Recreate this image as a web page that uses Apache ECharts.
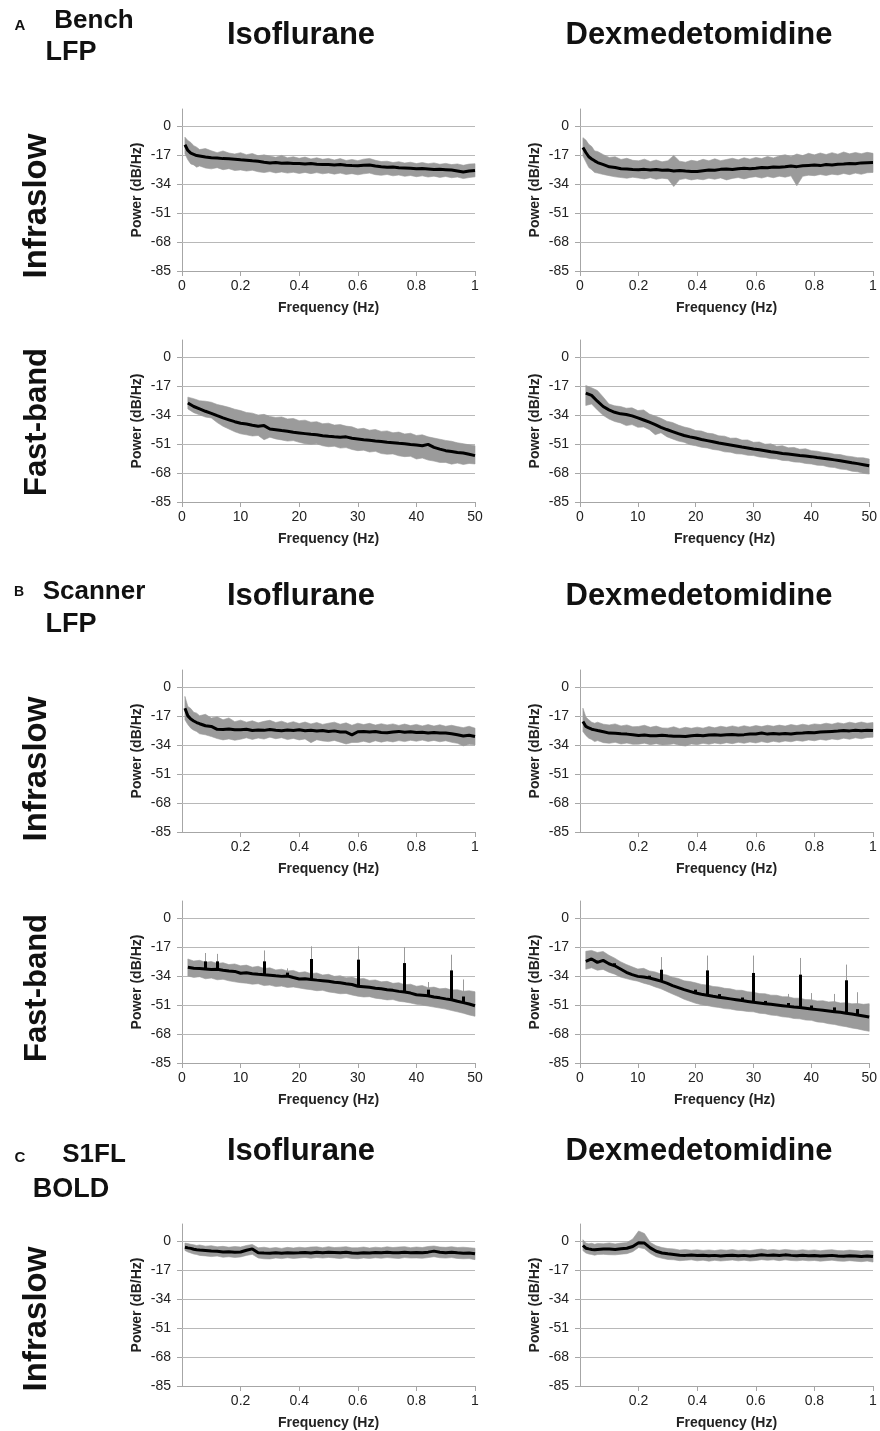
<!DOCTYPE html>
<html>
<head>
<meta charset="utf-8">
<title>Power spectra</title>
<script src="https://cdn.jsdelivr.net/npm/echarts@6.0.0/dist/echarts.min.js"></script>
<style>
  html, body { margin: 0; padding: 0; background: #fff; }
  #chart { width: 880px; height: 1431px; }
</style>
</head>
<body>
<div id="chart"></div>
<script>
// ---- axes ----
const yTicks = [-85, -68, -51, -34, -17, 0];
const ticksInfraA = [0, 0.2, 0.4, 0.6, 0.8, 1];
const ticksInfra = [0.2, 0.4, 0.6, 0.8, 1];
const ticksFast = [0, 10, 20, 30, 40, 50];

// frequency samples (Hz)
const freqInfra = [0.01, 0.02, 0.03, 0.04, 0.05, 0.06,
  0.08, 0.10, 0.12, 0.14, 0.16, 0.18, 0.20, 0.22, 0.24, 0.26,
  0.28, 0.30, 0.32, 0.34, 0.36, 0.38, 0.40, 0.42, 0.44, 0.46,
  0.48, 0.50, 0.52, 0.54, 0.56, 0.58, 0.60, 0.62, 0.64, 0.66,
  0.68, 0.70, 0.72, 0.74, 0.76, 0.78, 0.80, 0.82, 0.84, 0.86,
  0.88, 0.90, 0.92, 0.94, 0.96, 0.98, 1.00];
const freqFast = [1, 2, 3, 4, 5, 6, 7, 8, 9, 10,
  11, 12, 13, 14, 15, 16, 17, 18, 19, 20,
  21, 22, 23, 24, 25, 26, 27, 28, 29, 30,
  31, 32, 33, 34, 35, 36, 37, 38, 39, 40,
  41, 42, 43, 44, 45, 46, 47, 48, 49, 50];

// ---- A: bench LFP, infraslow ----
const benchIsoInfraMean = [-11.0, -14.3, -15.9, -16.6, -17.3, -17.6,
  -18.2, -18.6, -18.8, -19.1, -19.2, -19.5, -19.8, -20.0, -20.4, -20.7,
  -21.2, -21.6, -21.4, -21.8, -21.6, -22.0, -22.0, -22.3, -22.0, -22.4,
  -22.6, -22.5, -22.8, -22.6, -23.0, -23.2, -23.3, -23.0, -22.8, -23.4,
  -23.8, -24.1, -24.0, -24.4, -24.6, -24.8, -25.1, -24.9, -25.2, -25.5,
  -25.4, -25.6, -25.8, -26.3, -26.9, -26.4, -26.0];
const benchIsoInfraUpper = [-6.5, -8.5, -9.6, -11.5, -12.4, -13.8,
  -13.2, -14.5, -15.6, -14.6, -15.8, -16.4, -15.6, -16.8, -16.1, -17.4,
  -16.9, -17.6, -18.3, -17.2, -18.6, -18.0, -18.9, -18.2, -19.3, -18.6,
  -19.5, -19.0, -19.9, -19.1, -20.2, -19.6, -20.3, -19.4, -19.0, -20.1,
  -20.8, -20.6, -21.4, -20.9, -21.7, -21.2, -22.0, -21.4, -22.1, -21.6,
  -22.4, -21.9, -22.6, -22.2, -23.0, -22.3, -22.1];
const benchIsoInfraLower = [-16.3, -19.8, -22.2, -22.8, -24.1, -23.4,
  -24.6, -25.1, -24.4, -25.6, -25.0, -26.1, -25.7, -26.4, -25.9, -26.8,
  -27.3, -26.7, -27.5, -26.9, -27.6, -27.1, -27.8, -27.2, -27.9, -27.3,
  -28.0, -27.5, -28.2, -27.6, -28.4, -27.9, -28.6, -28.0, -27.6, -28.5,
  -28.9, -28.4, -29.2, -28.7, -29.5, -29.0, -29.7, -29.2, -29.9, -29.4,
  -30.1, -29.6, -30.3, -29.9, -30.8, -30.2, -29.8];

const benchDexInfraMean = [-12.6, -15.5, -18.0, -19.3, -20.4, -21.4,
  -22.6, -23.9, -24.3, -25.0, -25.2, -25.5, -25.6, -25.4, -25.8, -25.5,
  -25.9, -25.8, -26.3, -26.0, -26.4, -26.7, -26.6, -26.2, -25.8, -25.9,
  -25.4, -25.2, -25.5, -25.0, -24.8, -25.0, -24.7, -24.3, -24.5, -24.0,
  -24.2, -23.9, -23.4, -23.8, -23.3, -23.1, -22.9, -23.2, -22.6, -22.8,
  -22.4, -22.3, -21.9, -22.1, -21.6, -21.5, -21.4];
const benchDexInfraUpper = [-6.8, -8.2, -10.7, -12.0, -14.6, -14.9,
  -16.8, -18.4, -18.0, -19.6, -18.9, -20.1, -20.4, -19.4, -20.8, -19.9,
  -21.0, -20.3, -17.2, -20.6, -21.2, -20.1, -20.7, -19.5, -20.4, -19.2,
  -20.3, -19.6, -18.9, -19.8, -18.6, -19.4, -18.4, -19.1, -17.8, -18.7,
  -17.5, -16.8, -17.9, -16.4, -17.3, -16.0, -16.9, -15.8, -16.7, -15.6,
  -16.5, -15.2, -16.3, -15.5, -16.2, -15.4, -16.0];
const benchDexInfraLower = [-17.5, -21.0, -24.3, -25.6, -27.2, -27.6,
  -28.4, -29.1, -29.8, -30.2, -30.6, -30.0, -30.5, -31.0, -30.3, -31.2,
  -30.6, -31.0, -35.5, -31.4, -30.8, -31.6, -31.0, -31.5, -30.6, -31.2,
  -30.4, -31.6, -30.7, -30.2, -31.0, -30.1, -29.7, -30.5, -29.6, -30.3,
  -29.4, -30.0, -29.2, -35.0, -29.5, -28.8, -29.1, -28.4, -29.0, -28.2,
  -28.7, -27.8, -28.5, -27.6, -28.3, -27.4, -27.2];

// ---- A: bench LFP, fast-band ----
const benchIsoFastMean = [-26.9, -29.0, -30.4, -31.8, -33.0, -34.4, -35.7, -36.8, -37.9, -38.8,
  -39.3, -40.0, -40.6, -40.2, -42.2, -42.6, -43.1, -43.5, -44.1, -44.5,
  -44.9, -45.3, -45.6, -46.1, -46.5, -46.8, -47.0, -46.8, -47.6, -48.0,
  -48.5, -48.8, -49.2, -49.5, -50.0, -50.2, -50.6, -50.9, -51.3, -51.6,
  -52.0, -51.2, -53.0, -54.0, -54.9, -55.4, -56.0, -56.3, -57.0, -57.8];
const benchIsoFastUpper = [-23.5, -24.4, -25.6, -25.9, -26.5, -27.8, -28.6, -29.5, -30.6, -31.4,
  -32.5, -32.9, -34.0, -33.6, -34.8, -35.4, -35.1, -36.3, -36.0, -37.3,
  -37.0, -38.2, -37.9, -39.1, -38.8, -39.9, -39.6, -40.5, -40.9, -42.2,
  -41.8, -42.9, -42.5, -43.6, -43.3, -44.4, -44.0, -45.1, -44.7, -46.0,
  -45.6, -46.8, -47.5, -48.2, -48.9, -49.4, -50.3, -50.8, -51.5, -52.0];
const benchIsoFastLower = [-30.4, -32.6, -33.9, -35.2, -35.7, -38.4, -40.6, -42.2, -43.8, -45.0,
  -45.6, -46.3, -46.0, -48.5, -47.0, -48.0, -48.6, -49.3, -49.0, -50.0,
  -50.8, -51.2, -50.9, -52.0, -52.6, -52.3, -53.4, -53.1, -54.2, -54.9,
  -54.6, -55.7, -55.3, -56.6, -57.0, -56.8, -57.9, -58.4, -58.2, -59.8,
  -59.2, -60.4, -61.0, -61.8, -61.8, -62.8, -62.2, -63.0, -62.4, -62.7];

const benchDexFastMean = [-21.2, -22.5, -25.9, -29.0, -31.0, -32.4, -33.3, -33.7, -34.5, -35.7,
  -36.9, -38.2, -39.6, -41.2, -42.5, -43.7, -44.9, -46.0, -46.8, -47.5,
  -48.3, -49.0, -49.7, -50.4, -51.0, -51.6, -52.2, -52.8, -53.3, -53.9,
  -54.4, -54.9, -55.5, -56.0, -56.5, -56.9, -57.3, -57.7, -58.0, -58.4,
  -58.9, -59.3, -59.8, -60.3, -60.8, -61.4, -62.0, -62.5, -63.1, -63.7];
const benchDexFastUpper = [-16.7, -18.0, -19.6, -23.4, -27.5, -28.6, -29.0, -30.0, -29.8, -31.4,
  -31.0, -33.4, -34.6, -35.9, -37.6, -38.4, -39.9, -41.0, -41.8, -43.1,
  -43.4, -44.6, -45.0, -46.2, -46.4, -47.6, -47.5, -48.7, -48.6, -50.0,
  -49.8, -51.1, -50.9, -52.3, -52.0, -53.2, -53.0, -54.1, -53.8, -54.9,
  -55.2, -55.9, -56.3, -57.0, -57.2, -58.0, -58.4, -59.0, -59.1, -59.8];
const benchDexFastLower = [-28.4, -27.5, -31.0, -34.2, -36.3, -37.8, -38.6, -40.2, -39.6, -41.2,
  -41.0, -42.6, -45.5, -44.4, -46.7, -48.0, -49.3, -50.0, -51.4, -52.0,
  -52.9, -53.3, -54.2, -54.6, -55.6, -55.8, -56.7, -56.9, -57.6, -57.8,
  -58.6, -58.9, -59.6, -59.8, -60.6, -60.8, -61.5, -61.7, -62.4, -62.7,
  -63.4, -63.6, -64.5, -64.8, -65.7, -66.0, -66.9, -67.3, -68.2, -68.6];

// ---- B: scanner LFP, infraslow ----
const scanIsoInfraMean = [-12.4, -16.9, -18.8, -19.9, -20.8, -21.5,
  -22.7, -23.1, -24.8, -24.9, -24.6, -25.0, -25.1, -24.8, -25.5, -25.2,
  -25.4, -24.9, -25.3, -25.6, -25.2, -25.5, -25.1, -25.6, -25.3, -25.8,
  -25.5, -26.1, -25.7, -26.3, -26.4, -28.0, -26.2, -26.0, -26.4, -26.1,
  -26.6, -26.8, -26.3, -26.0, -26.5, -26.2, -26.7, -26.5, -27.0, -26.6,
  -26.9, -27.0, -27.4, -28.0, -28.7, -28.3, -29.0];
const scanIsoInfraUpper = [-5.5, -11.4, -12.6, -14.8, -15.3, -16.8,
  -16.0, -18.2, -17.4, -19.2, -18.1, -20.3, -19.4, -20.6, -19.8, -21.0,
  -20.1, -19.5, -20.8, -20.0, -21.2, -20.3, -21.4, -20.5, -21.6, -20.8,
  -21.9, -21.2, -20.6, -21.8, -21.0, -22.4, -21.2, -22.0, -21.3, -22.3,
  -21.5, -22.2, -21.6, -22.5, -21.7, -22.6, -21.9, -22.8, -22.0, -22.9,
  -22.1, -23.0, -22.4, -23.2, -23.8, -23.0, -24.1];
const scanIsoInfraLower = [-19.2, -22.0, -24.1, -25.3, -26.1, -27.4,
  -28.0, -29.0, -30.2, -31.0, -30.4, -31.2, -30.6, -29.8, -30.7, -29.9,
  -30.5, -29.4, -30.3, -29.7, -30.8, -30.1, -31.0, -30.4, -32.6, -30.9,
  -31.6, -32.0, -31.3, -32.3, -33.4, -32.5, -32.5, -31.8, -32.6, -31.5,
  -32.3, -31.6, -32.2, -31.4, -32.0, -31.2, -31.8, -31.1, -31.9, -31.3,
  -32.1, -31.5, -32.4, -33.0, -34.5, -33.6, -34.0];

const scanDexInfraMean = [-20.2, -23.1, -24.0, -24.7, -25.1, -25.5,
  -26.2, -27.0, -27.1, -27.4, -27.6, -28.0, -28.4, -28.1, -28.5, -28.6,
  -28.3, -28.6, -28.8, -28.9, -29.0, -28.6, -28.3, -28.5, -28.1, -28.0,
  -28.2, -28.0, -27.8, -28.1, -27.9, -27.6, -27.5, -27.0, -27.6, -27.3,
  -27.5, -27.2, -27.5, -27.1, -27.0, -26.7, -26.8, -26.4, -26.2, -26.0,
  -25.8, -25.5, -25.7, -25.4, -25.6, -25.3, -25.5];
const scanDexInfraUpper = [-12.4, -17.5, -19.2, -20.6, -21.2, -20.6,
  -21.8, -22.2, -21.6, -22.8, -22.2, -23.3, -23.1, -22.4, -23.6, -22.9,
  -24.0, -24.1, -23.3, -24.4, -23.6, -24.2, -23.5, -24.1, -23.2, -23.9,
  -23.0, -23.6, -22.8, -23.5, -22.7, -23.4, -22.6, -23.2, -22.4, -23.0,
  -22.3, -22.9, -22.0, -22.6, -21.8, -22.4, -21.6, -22.0, -21.2, -21.8,
  -20.9, -21.5, -20.6, -21.3, -20.5, -21.2, -20.8];
const scanDexInfraLower = [-26.1, -28.4, -30.0, -30.8, -32.0, -31.4,
  -32.6, -33.0, -32.4, -33.4, -32.8, -33.6, -33.5, -32.9, -33.8, -33.2,
  -34.0, -33.9, -33.3, -34.1, -34.6, -33.4, -33.8, -33.0, -33.6, -32.8,
  -33.4, -32.6, -33.2, -32.4, -33.0, -32.2, -32.8, -32.0, -32.6, -31.8,
  -32.4, -31.6, -32.1, -31.3, -31.8, -31.0, -31.5, -30.7, -31.2, -30.4,
  -30.9, -30.0, -30.6, -29.8, -30.3, -29.6, -29.4];

// ---- B: scanner LFP, fast-band (with gradient artefact peaks) ----
const scanIsoFastMean = [-28.9, -29.4, -29.6, -29.9, -30.2, -30.0, -30.6, -31.0, -31.3, -32.4,
  -32.1, -32.6, -33.0, -33.3, -33.5, -33.9, -34.2, -34.0, -34.9, -35.7,
  -35.6, -36.0, -36.4, -36.7, -37.0, -37.6, -37.9, -38.5, -39.0, -40.0,
  -40.3, -40.6, -41.2, -41.5, -42.0, -42.4, -43.0, -43.4, -44.0, -45.0,
  -45.3, -45.6, -46.3, -46.8, -47.4, -47.9, -48.8, -49.6, -50.4, -51.4];
const scanIsoFastUpper = [-24.0, -25.2, -24.8, -25.9, -25.5, -26.6, -26.2, -27.3, -26.9, -28.0,
  -27.6, -28.8, -28.3, -29.6, -29.2, -30.4, -30.0, -31.0, -30.7, -32.0,
  -31.5, -32.6, -32.2, -33.4, -33.0, -34.2, -33.8, -35.0, -34.6, -35.8,
  -35.4, -36.6, -36.3, -37.4, -37.1, -38.3, -37.9, -39.1, -38.8, -40.0,
  -39.6, -40.8, -40.5, -41.5, -41.2, -42.2, -42.0, -42.9, -42.6, -43.2];
const scanIsoFastLower = [-34.0, -34.8, -34.4, -35.6, -35.2, -36.2, -35.9, -36.8, -37.4, -37.9,
  -38.2, -38.8, -38.5, -39.6, -39.3, -40.2, -39.9, -40.7, -40.4, -41.0,
  -41.6, -42.0, -42.6, -42.4, -43.3, -43.8, -44.4, -44.2, -45.1, -45.8,
  -46.3, -46.1, -47.0, -47.4, -48.0, -47.8, -48.8, -49.2, -49.8, -50.6,
  -51.0, -51.6, -52.2, -52.8, -53.4, -54.2, -55.0, -55.8, -56.8, -57.6];
const scanIsoPeakFreq = [4, 6, 14, 18, 22, 30, 38, 42, 46, 48];
const scanIsoPeakMean = [-25.4, -25.4, -25.4, -32.0, -24.0, -24.4, -26.4, -42.0, -30.7, -46.0];
const scanIsoPeakUpper = [-20.5, -21.0, -19.0, -29.5, -16.6, -16.6, -17.0, -37.5, -21.5, -36.0];

const scanDexFastMean = [-25.4, -24.0, -26.0, -24.8, -26.8, -28.0, -29.9, -31.8, -33.2, -34.2,
  -34.6, -35.2, -36.0, -37.0, -38.2, -39.6, -40.8, -42.0, -43.0, -44.0,
  -44.7, -45.3, -45.9, -46.4, -46.9, -47.4, -47.9, -48.4, -48.9, -49.4,
  -49.8, -50.2, -50.6, -51.0, -51.4, -51.8, -52.2, -52.5, -52.9, -53.3,
  -53.7, -54.1, -54.5, -54.9, -55.3, -55.8, -56.3, -56.8, -57.4, -58.0];
const scanDexFastUpper = [-19.5, -19.0, -20.2, -19.6, -21.8, -23.5, -25.6, -27.2, -28.6, -29.9,
  -29.5, -31.0, -31.6, -32.8, -33.4, -34.7, -35.4, -36.8, -37.2, -38.0,
  -38.9, -39.3, -40.1, -40.4, -41.2, -41.5, -42.3, -42.4, -43.2, -43.5,
  -44.3, -44.4, -45.2, -45.3, -46.1, -46.2, -47.0, -47.0, -47.8, -47.9,
  -48.6, -48.5, -49.2, -49.0, -49.8, -49.6, -50.3, -50.1, -50.6, -50.2];
const scanDexFastLower = [-30.0, -29.2, -30.6, -30.1, -31.8, -32.9, -34.6, -35.5, -36.4, -37.0,
  -38.2, -39.1, -40.4, -41.5, -43.0, -44.6, -46.0, -47.6, -48.8, -50.0,
  -50.8, -51.3, -52.0, -52.4, -53.1, -53.4, -54.0, -54.3, -54.8, -55.0,
  -55.8, -56.1, -56.9, -57.2, -57.9, -58.2, -58.9, -59.1, -59.8, -60.0,
  -60.9, -61.2, -62.0, -62.4, -63.2, -63.7, -64.5, -65.0, -65.8, -66.4];
const scanDexPeakFreq = [6, 12, 14, 20, 22, 24, 28, 30, 32, 36, 38, 40, 44, 46, 48];
const scanDexPeakMean = [-26.5, -33.8, -30.3, -42.0, -30.7, -44.6, -46.6, -32.2, -48.6, -49.8, -33.2, -51.3, -52.4, -36.5, -53.4];
const scanDexPeakUpper = [-24.5, -31.5, -22.9, -38.5, -22.0, -41.0, -43.0, -22.0, -45.5, -44.5, -23.4, -44.0, -44.5, -27.3, -43.5];

// ---- C: S1FL BOLD, infraslow ----
const boldIsoMean = [-3.6, -4.0, -4.3, -4.8, -5.1, -5.3,
  -5.6, -5.9, -6.0, -6.4, -6.3, -6.5, -6.4, -5.4, -4.6, -6.8,
  -7.0, -7.1, -6.9, -7.2, -6.8, -7.0, -6.9, -6.7, -7.0, -6.6,
  -6.8, -6.5, -6.7, -6.9, -6.6, -7.0, -7.1, -6.8, -7.0, -6.7,
  -6.9, -6.6, -6.8, -6.9, -6.6, -6.8, -6.7, -6.9, -6.5, -5.9,
  -6.6, -6.8, -6.5, -6.9, -7.1, -7.0, -7.5];
const boldIsoUpper = [-1.2, -1.5, -1.9, -2.2, -2.6, -2.3,
  -3.0, -2.7, -3.4, -3.1, -3.6, -3.2, -3.5, -2.6, -2.0, -4.0,
  -3.6, -4.2, -3.8, -4.3, -3.7, -4.1, -3.6, -4.0, -3.5, -3.4,
  -3.9, -3.3, -3.8, -3.6, -3.3, -4.0, -3.9, -3.5, -4.1, -3.6,
  -3.9, -3.4, -3.8, -3.5, -3.3, -3.9, -3.5, -3.8, -3.2, -2.9,
  -3.5, -3.7, -3.3, -3.8, -3.6, -3.9, -4.2];
const boldIsoLower = [-5.5, -6.4, -7.0, -7.6, -7.9, -8.4,
  -8.7, -9.1, -8.8, -9.5, -9.2, -9.6, -9.3, -8.4, -7.8, -9.9,
  -10.4, -10.5, -9.9, -10.3, -9.8, -10.2, -9.9, -9.6, -10.1, -9.6,
  -10.0, -9.6, -9.9, -10.3, -9.7, -10.2, -10.4, -9.9, -10.2, -9.8,
  -10.1, -9.7, -10.0, -10.2, -9.7, -10.0, -9.9, -10.1, -9.7, -9.2,
  -9.8, -10.0, -9.7, -10.2, -10.4, -10.3, -10.9];

const boldDexMean = [-2.6, -4.2, -4.6, -4.9, -5.1, -4.9,
  -4.7, -4.7, -4.9, -4.5, -4.2, -3.2, -1.0, -1.2, -4.0, -6.0,
  -7.0, -7.5, -7.9, -8.3, -8.4, -8.2, -8.5, -8.3, -8.6, -8.4,
  -8.7, -8.5, -8.3, -8.6, -8.4, -8.7, -8.5, -8.0, -8.4, -8.2,
  -8.5, -8.1, -8.4, -8.6, -8.3, -8.6, -8.5, -8.8, -8.6, -8.4,
  -8.7, -8.9, -8.6, -8.8, -9.0, -8.7, -9.1];
const boldDexUpper = [0.8, -1.2, -1.6, -1.3, -1.9, -1.4,
  -1.6, -1.1, -1.7, -1.2, -0.9, 1.2, 5.9, 4.4, -0.8, -2.8,
  -3.8, -4.4, -4.6, -5.3, -5.0, -5.4, -5.1, -5.5, -5.2, -5.6,
  -5.1, -5.4, -5.0, -5.5, -5.2, -5.6, -5.1, -4.7, -5.3, -5.0,
  -5.4, -4.9, -5.3, -5.5, -5.1, -5.5, -5.2, -5.7, -5.3, -5.1,
  -5.6, -5.7, -5.3, -5.6, -5.9, -5.5, -5.8];
const boldDexLower = [-5.6, -7.0, -7.6, -7.9, -8.3, -7.9,
  -7.8, -8.0, -8.1, -7.7, -7.4, -6.2, -3.8, -4.5, -7.3, -9.2,
  -10.1, -10.8, -11.0, -11.5, -11.3, -11.0, -11.6, -11.2, -11.8, -11.3,
  -11.7, -11.4, -11.1, -11.6, -11.2, -11.7, -11.4, -10.9, -11.3, -11.0,
  -11.5, -11.0, -11.4, -11.6, -11.2, -11.6, -11.4, -11.8, -11.5, -11.2,
  -11.7, -11.9, -11.5, -11.8, -12.1, -11.7, -12.3];

// ---- layout ----
const FONT = '"Liberation Sans", Arial, sans-serif';
const gridColor = '#b8b8b8';
const axisColor = '#a6a6a6';
const bandColor = '#9b9b9b';
const textColor = '#222';

const colLeft = [182, 580];
const plotW = 293, plotH = 162;

const panels = [
  { col: 0, top: 109, freq: freqInfra, mean: benchIsoInfraMean, up: benchIsoInfraUpper, lo: benchIsoInfraLower, xMax: 1, step: 0.2, xTicks: ticksInfraA },
  { col: 1, top: 109, freq: freqInfra, mean: benchDexInfraMean, up: benchDexInfraUpper, lo: benchDexInfraLower, xMax: 1, step: 0.2, xTicks: ticksInfraA },
  { col: 0, top: 340, freq: freqFast, mean: benchIsoFastMean, up: benchIsoFastUpper, lo: benchIsoFastLower, xMax: 50, step: 10, xTicks: ticksFast },
  { col: 1, top: 340, freq: freqFast, mean: benchDexFastMean, up: benchDexFastUpper, lo: benchDexFastLower, xMax: 50, step: 10, xTicks: ticksFast },
  { col: 0, top: 670, freq: freqInfra, mean: scanIsoInfraMean, up: scanIsoInfraUpper, lo: scanIsoInfraLower, xMax: 1, step: 0.2, xTicks: ticksInfra },
  { col: 1, top: 670, freq: freqInfra, mean: scanDexInfraMean, up: scanDexInfraUpper, lo: scanDexInfraLower, xMax: 1, step: 0.2, xTicks: ticksInfra },
  { col: 0, top: 901, freq: freqFast, mean: scanIsoFastMean, up: scanIsoFastUpper, lo: scanIsoFastLower, xMax: 50, step: 10, xTicks: ticksFast,
    peaks: { f: scanIsoPeakFreq, m: scanIsoPeakMean, u: scanIsoPeakUpper } },
  { col: 1, top: 901, freq: freqFast, mean: scanDexFastMean, up: scanDexFastUpper, lo: scanDexFastLower, xMax: 50, step: 10, xTicks: ticksFast,
    peaks: { f: scanDexPeakFreq, m: scanDexPeakMean, u: scanDexPeakUpper } },
  { col: 0, top: 1224, freq: freqInfra, mean: boldIsoMean, up: boldIsoUpper, lo: boldIsoLower, xMax: 1, step: 0.2, xTicks: ticksInfra },
  { col: 1, top: 1224, freq: freqInfra, mean: boldDexMean, up: boldDexUpper, lo: boldDexLower, xMax: 1, step: 0.2, xTicks: ticksInfra }
];

const grids = [], xAxes = [], yAxes = [], series = [];

panels.forEach(function (p, i) {
  grids.push({ left: colLeft[p.col], top: p.top, width: plotW, height: plotH });

  xAxes.push({
    gridIndex: i, type: 'value', min: 0, max: p.xMax, interval: p.step,
    axisLine: { onZero: false, lineStyle: { color: axisColor, width: 1 } },
    axisTick: { show: true, length: 5, customValues: p.xTicks, lineStyle: { color: axisColor } },
    axisLabel: { customValues: p.xTicks, color: textColor, fontSize: 14, fontFamily: FONT, margin: 8 },
    splitLine: { show: false },
    name: 'Frequency (Hz)', nameLocation: 'middle', nameGap: 30,
    nameTextStyle: { color: textColor, fontSize: 14, fontWeight: 'bold', fontFamily: FONT }
  });

  yAxes.push({
    gridIndex: i, type: 'value', min: -85, max: 10, interval: 17,
    axisLine: { show: true, lineStyle: { color: axisColor, width: 1 } },
    axisTick: { show: true, length: 5, customValues: yTicks, lineStyle: { color: axisColor } },
    axisLabel: { customValues: yTicks, color: textColor, fontSize: 14, fontFamily: FONT, margin: 11 },
    splitLine: { show: false },
    name: 'Power (dB/Hz)', nameLocation: 'middle', nameGap: 38, nameRotate: 90,
    nameTextStyle: { color: textColor, fontSize: 14, fontWeight: 'bold', fontFamily: FONT }
  });

  // horizontal gridlines, carried by an invisible lower-edge line
  series.push({
    type: 'line', xAxisIndex: i, yAxisIndex: i, z: 1,
    data: p.freq.map(function (f, k) { return [f, p.lo[k]]; }),
    symbol: 'none', silent: true,
    lineStyle: { opacity: 0 },
    markLine: {
      silent: true, symbol: 'none', z: 1, animation: false,
      label: { show: false },
      lineStyle: { color: gridColor, width: 1, type: 'solid' },
      data: yTicks.filter(function (v) { return v > -85; }).map(function (v) { return { yAxis: v }; })
    }
  });

  // SD band: one polygon, upper edge forward then lower edge back
  const band = {
    type: 'custom', coordinateSystem: 'cartesian2d', xAxisIndex: i, yAxisIndex: i, z: 3,
    silent: true,
    data: p.freq.map(function (f, k) { return [f, p.lo[k], p.up[k]]; }),
    encode: { x: 0, y: [1, 2] },
    renderItem: function (params, api) {
      if (params.dataIndex !== 0) return null;
      const pts = [];
      for (let k = 0; k < p.freq.length; k++) pts.push(api.coord([p.freq[k], p.up[k]]));
      for (let k = p.freq.length - 1; k >= 0; k--) pts.push(api.coord([p.freq[k], p.lo[k]]));
      return {
        type: 'polygon', shape: { points: pts },
        style: { fill: bandColor, stroke: bandColor, lineWidth: 0.6 }
      };
    }
  };
  if (p.peaks) {
    band.markLine = {
      silent: true, symbol: 'none', z: 3, animation: false,
      label: { show: false },
      lineStyle: { color: bandColor, width: 1, type: 'solid' },
      data: p.peaks.f.map(function (f, k) {
        return [{ coord: [f, p.mean[p.freq.indexOf(f)]] }, { coord: [f, p.peaks.u[k]] }];
      })
    };
  }
  series.push(band);

  // mean spectrum
  const mean = {
    type: 'line', xAxisIndex: i, yAxisIndex: i, z: 4,
    data: p.freq.map(function (f, k) { return [f, p.mean[k]]; }),
    symbol: 'none', silent: true,
    lineStyle: { color: '#000', width: 3 }
  };
  if (p.peaks) {
    mean.markLine = {
      silent: true, symbol: 'none', z: 5, animation: false,
      label: { show: false },
      lineStyle: { color: '#000', width: 3, type: 'solid' },
      data: p.peaks.f.map(function (f, k) {
        return [{ coord: [f, p.mean[p.freq.indexOf(f)]] }, { coord: [f, p.peaks.m[k]] }];
      })
    };
  }
  series.push(mean);
});

// ---- text: panel letters, row/column headings ----
function label(str, x, y, size, rotate) {
  return {
    type: 'text', x: x, y: y, rotation: rotate ? Math.PI / 2 : 0, silent: true,
    style: {
      text: str, font: 'bold ' + size + 'px ' + FONT, fill: '#111',
      align: 'center', verticalAlign: 'middle',
      textAlign: 'center', textVerticalAlign: 'middle'
    }
  };
}

const graphics = [
  label('A', 20, 26, 15), label('Bench', 94, 21, 26), label('LFP', 71, 53, 27),
  label('Isoflurane', 301, 35, 31), label('Dexmedetomidine', 699, 35, 31),
  label('B', 19, 592, 14), label('Scanner', 94, 592, 26), label('LFP', 71, 625, 27),
  label('Isoflurane', 301, 596, 31), label('Dexmedetomidine', 699, 596, 31),
  label('C', 20, 1158, 15), label('S1FL', 94, 1155, 26), label('BOLD', 71, 1190, 27),
  label('Isoflurane', 301, 1151, 31), label('Dexmedetomidine', 699, 1151, 31),
  label('Infraslow', 37, 206, 33, true),
  label('Fast-band', 37, 422, 31, true),
  label('Infraslow', 37, 769, 33, true),
  label('Fast-band', 37, 988, 31, true),
  label('Infraslow', 37, 1319, 33, true)
];

const chart = echarts.init(document.getElementById('chart'), null, { renderer: 'canvas' });
chart.setOption({
  backgroundColor: '#fff',
  animation: false,
  grid: grids,
  xAxis: xAxes,
  yAxis: yAxes,
  series: series,
  graphic: graphics
});
</script>
</body>
</html>
